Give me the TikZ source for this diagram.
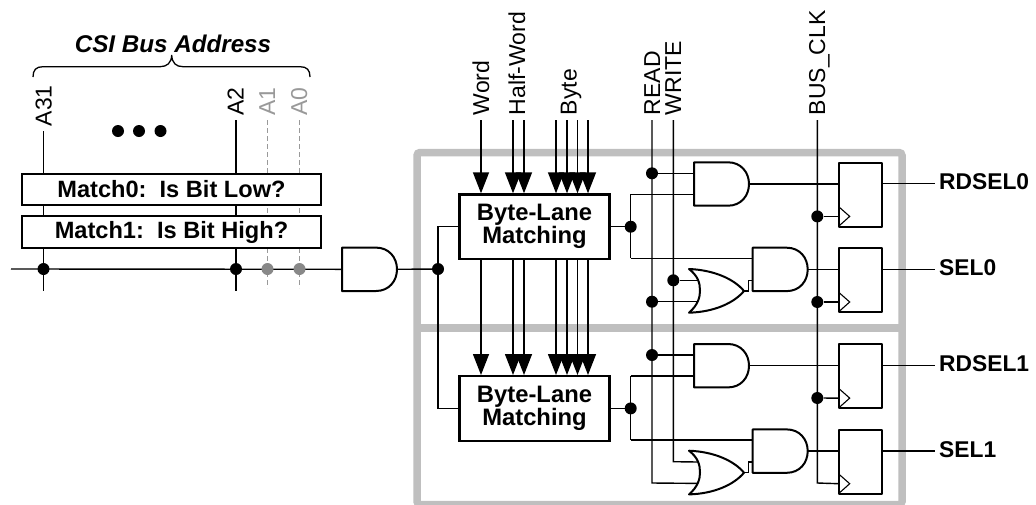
\documentclass[tikz,border=0pt]{standalone}
\usepackage{fontspec}
\setmainfont{Liberation Sans}
\usetikzlibrary{arrows.meta}
\definecolor{framegrey}{HTML}{BFBFBF}
\definecolor{fadegrey}{HTML}{999999}
\definecolor{dotgrey}{HTML}{888888}
\tikzset{
  wire/.style={line width=1.4pt,draw=black},
  gatebody/.style={line width=2pt,draw=black,fill=white,line join=round},
  fftick/.style={line width=1.1pt,draw=black},
  dot/.style={circle,fill=black,inner sep=0pt,minimum size=12pt},
  greydot/.style={dot,fill=dotgrey},
  matchbox/.style={draw=black,fill=white,line width=2.3pt,minimum width=299pt,minimum height=31.5pt,inner sep=0pt,font=\fontsize{23.6}{24}\selectfont\bfseries},
  lanebox/.style={draw=black,fill=white,line width=2.3pt,minimum width=150pt,minimum height=64.5pt,inner sep=0pt,align=center,font=\fontsize{23.8}{21}\selectfont\bfseries},
  vlabel/.style={rotate=90,anchor=base west,inner sep=0pt,font=\fontsize{23}{24}\selectfont},
  outlabel/.style={anchor=base west,inner sep=4pt,font=\fontsize{22.8}{24}\selectfont\bfseries},
  titlelabel/.style={anchor=base,inner sep=0pt,font=\fontsize{24.2}{26}\selectfont\bfseries\itshape},
  bigarrow/.style={wire,-{Triangle[length=21pt,width=16pt]}},
  frame/.style={draw=framegrey,line width=7.5pt,rounded corners=3pt},
  pics/andg/.style={code={
    \path[gatebody] (0,0) -- (34,0) .. controls (47,0) and (55,10) .. (55,21.7)
       .. controls (55,33.4) and (47,43.4) .. (34,43.4) -- (0,43.4) -- cycle;
    \coordinate (-a) at (0,11);
    \coordinate (-b) at (0,32);
    \coordinate (-c) at (0,21.7);
    \coordinate (-o) at (55,21.7);
  }},
  pics/org/.style={code={
    \path[gatebody] (0,0) .. controls (25,1) and (45,10) .. (55,22)
       .. controls (45,34) and (25,43) .. (0,43.7)
       .. controls (9,36) and (11,28) .. (11,21.8)
       .. controls (11,14) and (9,7) .. (0,0) -- cycle;
    \coordinate (-a) at (9,11.3);
    \coordinate (-b) at (9,32.7);
    \coordinate (-o) at (55,22);
  }},
  pics/ffg/.style={code={
    \path[gatebody] (0,0) rectangle (43,64);
    \path[fftick] (0,44) -- (11,53.7) -- (0,63.5);
    \coordinate (-d) at (0,21);
    \coordinate (-k) at (0,53.7);
    \coordinate (-q) at (43,21);
  }},
}
\begin{document}
\begin{tikzpicture}[x=1pt,y=-1pt]
\useasboundingbox (0,0) rectangle (1036,504);
% grey frame
\path[frame] (417,152.5) rectangle (902,504.5);
\path[frame,rounded corners=0pt] (417,328) -- (902,328);

% ---- address section
\coordinate (ta31) at (43.5,131);
\coordinate (ta2) at (236,120);
\coordinate (ta1) at (267.5,120);
\coordinate (ta0) at (299.5,120);
\coordinate (ea31) at (43.5,291);
\coordinate (ea2) at (236,291);
\coordinate (ea1) at (267.5,288);
\coordinate (ea0) at (299.5,288);
\coordinate (busl) at (11,269);
\draw[wire] (ta31) -- (ea31);
\draw[wire] (ta2) -- (ea2);
\draw[wire,draw=fadegrey,dash pattern=on 5pt off 3pt] (ta1) -- (ea1);
\draw[wire,draw=fadegrey,dash pattern=on 5pt off 3pt] (ta0) -- (ea0);
\node[matchbox] (m0) at (171.5,189.5) {Match0:~~Is Bit Low?};
\node[matchbox] (m1) at (171.5,232) {Match1:~~Is Bit High?};
\node[vlabel] (la31) at (51.5,126.5) {A31};
\node[vlabel] (la2) at (243.5,116) {A2};
\node[vlabel,text=fadegrey] (la1) at (275,116) {A1};
\node[vlabel,text=fadegrey] (la0) at (307,116) {A0};
\node[titlelabel] (title) at (173,52.7) {CSI Bus Address};
\draw[line width=1.3pt] (33,77) .. controls (33,70) and (36,66.7) .. (43,66.7) -- (160,66.7)
   .. controls (167,66.7) and (171.5,63) .. (171.7,55)
   .. controls (172,63) and (176,66.7) .. (183,66.7) -- (300,66.7)
   .. controls (307,66.7) and (310,70) .. (310,77);
\node[dot] (e1) at (118,131) {};
\node[dot] (e2) at (139,131) {};
\node[dot] (e3) at (160.5,131) {};
\pic (ag) at (342,247.6) {andg};
\draw[wire] (busl) -- (ag-c);
\node[dot] (b31) at (43.5,269) {};
\node[dot] (b2) at (236,269) {};
\node[greydot] (b1) at (267.5,269) {};
\node[greydot] (b0) at (299.5,269) {};
\node[dot] (sel) at (438,269) {};
\draw[wire] (ag-o) -- (sel);

% ---- control signals
\coordinate (tread) at (652,120);
\coordinate (twrite) at (673.3,120);
\coordinate (tclk) at (817.3,120);
\foreach \s/\x in {tw/481,th1/513,th2/524,tb1/556,tb2/567,tb3/577.5,tb4/588}{
  \coordinate (\s) at (\x,120);
}
\node[vlabel] (lw) at (489,115.3) {Word};
\node[vlabel] (lh) at (525,115.3) {Half-Word};
\node[vlabel] (lb) at (576.5,115.3) {Byte};
\node[vlabel] (lr) at (660,115.3) {READ};
\node[vlabel] (lwr) at (681,115.3) {WRITE};
\node[vlabel] (lc) at (825,115.3) {BUS\_CLK};

% ---- the two blocks: gates and long verticals
\foreach \n/\o in {0/0,1/181.7}{
  \node[lanebox] (bl\n) at (534.5,226.7+\o) {Byte-Lane\\Matching};
  \pic (a\n) at (694,162.3+\o) {andg};
  \pic (s\n) at (752.7,247.7+\o) {andg};
  \pic (o\n) at (689,269+\o) {org};
  \pic (f\n) at (838.7,162.7+\o) {ffg};
  \pic (g\n) at (838.7,248.3+\o) {ffg};
  \node[dot] (j\n) at (630.7,226.7+\o) {};
  \coordinate (ju\n) at (630.7,194.3+\o);
  \coordinate (jd\n) at (630.7,258.3+\o);
  \draw[wire] (bl\n.east) -- (j\n);
  \draw[wire] (a\n-o) -- (a\n-o -| f\n-d);
  \draw[wire] (s\n-o) -- (s\n-o -| g\n-d);
  \draw[wire] (o\n-o) -- ++(4.3,0) |- (752.7,280.3+\o);
  \draw[wire] (ju\n) -- (jd\n);
  \draw[wire] (ju\n) -- (694,194.3+\o);
  \draw[wire] (jd\n) -- (752.7,258.3+\o);
}
\node[outlabel] (q0) at (935,189.8) {RDSEL0};
\node[outlabel] (q1) at (935,275.6) {SEL0};
\node[outlabel] (q2) at (935,371.7) {RDSEL1};
\node[outlabel] (q3) at (935,457.3) {SEL1};
\draw[wire] (f0-q) -- (f0-q -| q0.west);
\draw[wire] (g0-q) -- (g0-q -| q1.west);
\draw[wire] (f1-q) -- (f1-q -| q2.west);
\draw[wire] (g1-q) -- (g1-q -| q3.west);

% select to lanes
\draw[wire] (bl0.west) -| (sel);
\draw[wire] (bl1.west) -| (sel);

% arrows into and between lanes
\foreach \s in {tw,th1,th2,tb1,tb2,tb3,tb4}{
  \draw[bigarrow] (\s) -- (\s |- bl0.north);
  \draw[bigarrow] (\s |- bl0.south) -- (\s |- bl1.north);
}

% READ / WRITE / CLK
\coordinate (cr1) at (652,483);
\coordinate (cw1) at (673.3,461.7);
\coordinate (cc1) at (817.3,483);
\draw[wire] (tread) -- (cr1) -- (o1-b);
\draw[wire] (twrite) -- (cw1) -- (o1-a);
\draw[wire] (tclk) -- (cc1) -- (g1-k);
\node[dot] (r1) at (652,173.3) {};
\node[dot] (r2) at (652,301.7) {};
\node[dot] (r3) at (652,355) {};
\node[dot] (w1) at (673.3,280.3) {};
\draw[wire] (r1) -- (a0-a);
\draw[wire] (r3) -- (a1-a);
\draw[wire] (r2) -- (o0-b);
\draw[wire] (w1) -- (o0-a);
\node[dot] (c1) at (817.3,216.4) {};
\node[dot] (c2) at (817.3,302) {};
\node[dot] (c3) at (817.3,398) {};
\draw[wire] (c1) -- (f0-k);
\draw[wire] (c2) -- (g0-k);
\draw[wire] (c3) -- (f1-k);
\end{tikzpicture}
\end{document}
